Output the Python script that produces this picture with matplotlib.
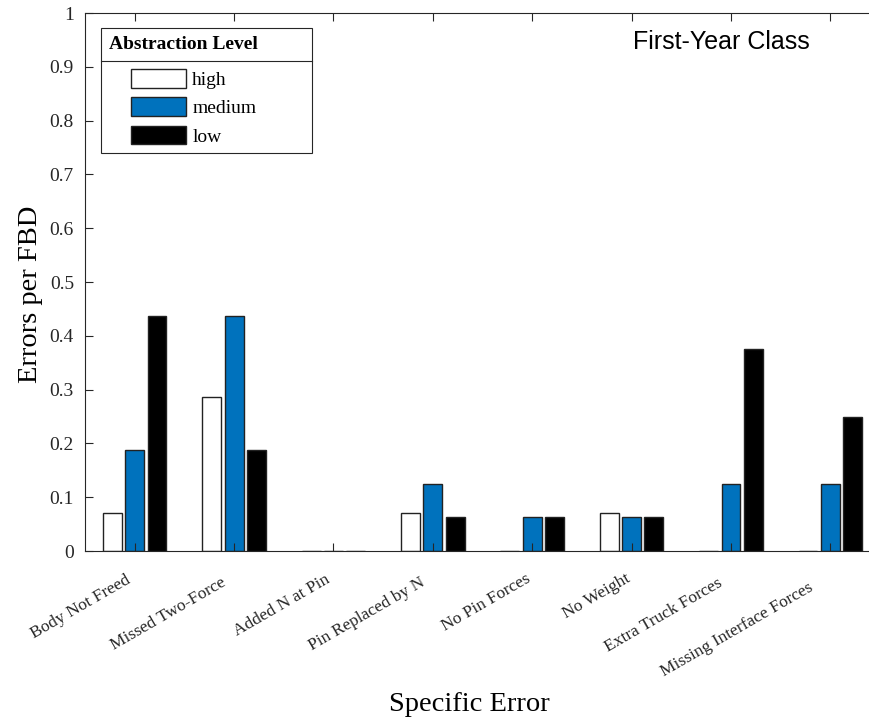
import numpy as np
import matplotlib.pyplot as plt
from matplotlib.patches import Rectangle
from matplotlib.legend_handler import HandlerPatch
from matplotlib.lines import Line2D
from matplotlib.transforms import ScaledTranslation

# data
errors = ['Body Not Freed', 'Missed Two-Force', 'Added N at Pin', 'Pin Replaced by N',
          'No Pin Forces', 'No Weight', 'Extra Truck Forces', 'Missing Interface Forces']
levels = ['high', 'medium', 'low']
high = [0.0714, 0.2857, 0, 0.0714, 0, 0.0714, 0, 0]
medium = [0.1875, 0.4375, 0, 0.125, 0.0625, 0.0625, 0.125, 0.125]
low = [0.4375, 0.1875, 0, 0.0625, 0.0625, 0.0625, 0.375, 0.25]
colors = ['white', '#0072BD', 'black']

serif = ['Liberation Serif', 'DejaVu Serif']
plt.rcParams['font.family'] = serif

fig = plt.figure(figsize=(8.7, 7.28), dpi=100)
ax = fig.add_axes([0.0977, 0.2431, 0.9138, 0.739])

x = np.arange(1, len(errors) + 1)
offs = [-0.224, 0, 0.224]
for vals, off, c, lab in zip([high, medium, low], offs, colors, levels):
    ax.bar(x + off, vals, width=0.19, color=c, edgecolor='#222222', linewidth=1.0, label=lab)

ax.set_xlim(0.5, 8.5)
ax.set_ylim(0, 1)
ax.set_yticks(np.arange(0, 1.01, 0.1))
ax.yaxis.set_major_formatter(plt.FuncFormatter(lambda v, p: f"{v:g}"))
ax.set_xticks(x)
ax.set_xticklabels(errors, rotation=30, ha='right', va='center', rotation_mode='anchor', fontsize=12.5)
ax.tick_params(direction='in', length=6, width=0.8, color='#262626', top=True, right=True)
ax.tick_params(axis='y', labelsize=14, pad=8, labelcolor='#262626')
ax.tick_params(axis='x', pad=18, labelcolor='#262626')
for s in ax.spines.values():
    s.set_color('#262626')
    s.set_linewidth(0.8)

ax.set_ylabel('Errors per FBD', fontsize=20.5)
ax.yaxis.set_label_coords(-0.053, 0.478)
ax.set_xlabel('Specific Error', fontsize=20.5, va='top')
ax.xaxis.set_label_coords(0.483, -0.262)

ax.text(6.01, 0.946, 'First-Year Class', family=['Liberation Sans', 'DejaVu Sans'],
        fontsize=18, ha='left', va='center')


def indented_patch(legend, orig_handle, xdescent, ydescent, width, height, fontsize):
    w = 2.83 * fontsize
    return Rectangle((width - w - xdescent, -ydescent), w, height)


handles = [Rectangle((0, 0), 1, 1, facecolor=c, edgecolor='#222222', linewidth=1.0) for c in colors]
leg = ax.legend(handles, levels, title='Abstraction Level', loc='upper left',
                bbox_to_anchor=(0.020, 0.5, 0.265, 0.472), mode='expand', borderaxespad=0,
                fontsize=14, title_fontproperties={'weight': 'bold', 'size': 14, 'family': serif},
                alignment='left', fancybox=False, framealpha=1, edgecolor='#262626',
                handlelength=4.0, handleheight=1.1, handletextpad=0.3, labelspacing=0.42,
                handler_map={Rectangle: HandlerPatch(patch_func=indented_patch)})
leg.get_frame().set_linewidth(0.8)
leg._legend_box.sep += 6

fig.canvas.draw()

# longer labels sit a little further down-left along their own direction, as in the original
ang = np.deg2rad(30)
for lab in ax.get_xticklabels():
    bb = lab.get_window_extent()
    L = bb.width / np.cos(ang) - 8
    d = max(3.0, 0.25 * L - 22) / fig.dpi
    lab.set_transform(lab.get_transform() +
                      ScaledTranslation(-d * np.cos(ang), -d * np.sin(ang), fig.dpi_scale_trans))

fb = leg.get_frame().get_window_extent()
tb = leg.get_title().get_window_extent()
ysep = tb.y0 - 8
inv = fig.transFigure.inverted()
(x0, y0), (x1, _) = inv.transform([(fb.x0, ysep), (fb.x1, ysep)])
fig.add_artist(Line2D([x0, x1], [y0, y0], transform=fig.transFigure, color='#262626', lw=0.8))

fig.savefig('out.png', dpi=100)
